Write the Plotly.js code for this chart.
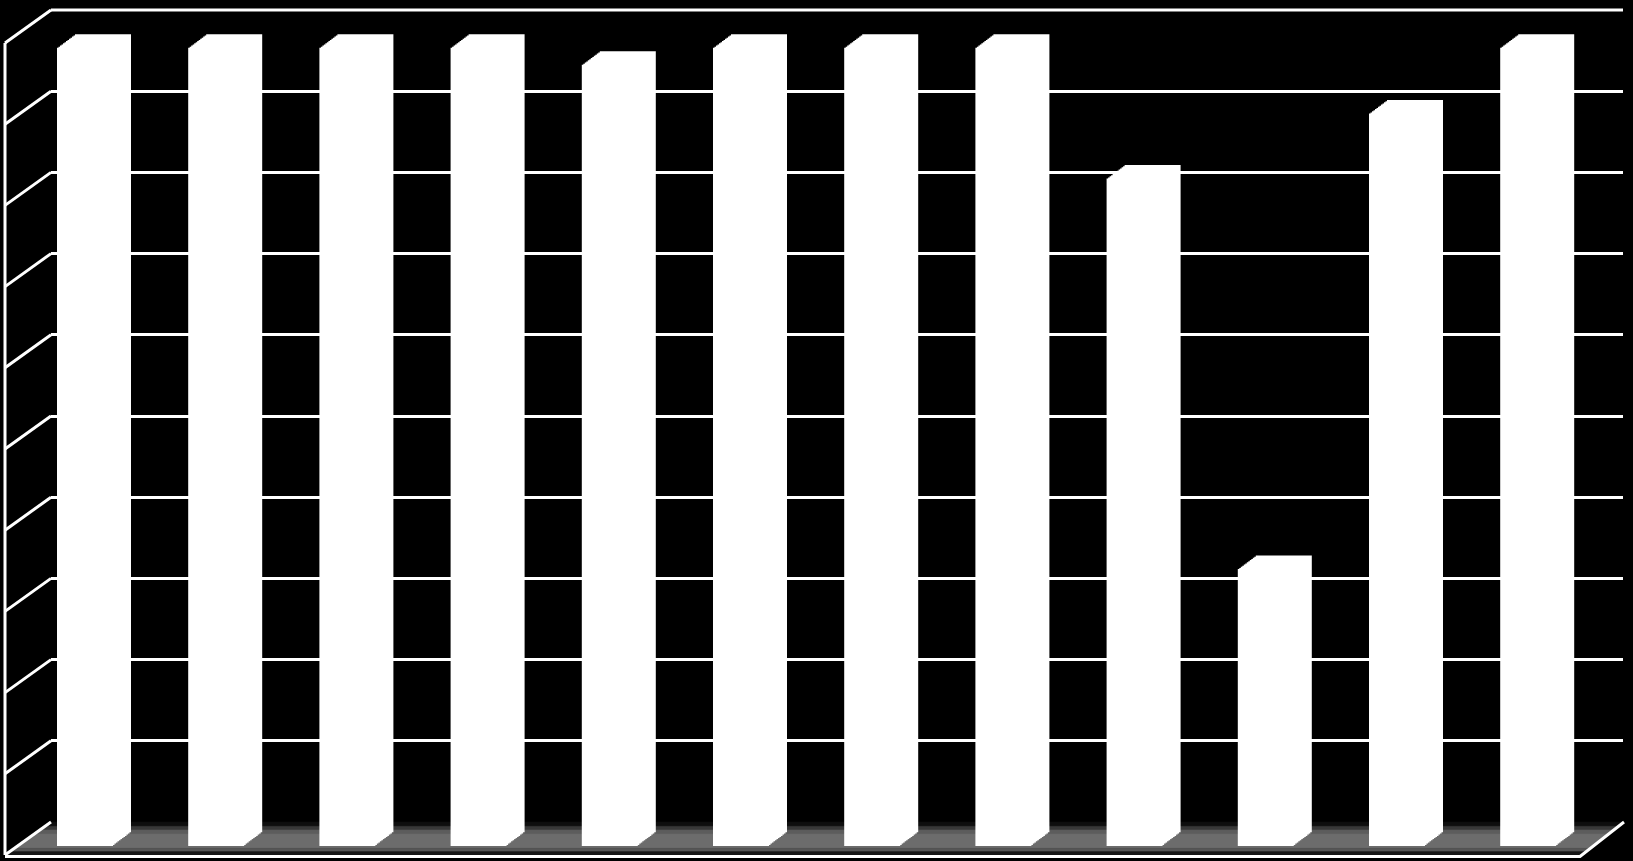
<!DOCTYPE html>
<html>
<head>
<meta charset="utf-8">
<script src="https://cdn.plot.ly/plotly-3.0.1.min.js"></script>
<style>html,body{margin:0;padding:0;background:#000;}#chart{width:1633px;height:861px;}</style>
</head>
<body>
<div id="chart"></div>
<script>
// ---- data ----
const categories = ['1','2','3','4','5','6','7','8','9','10','11','12'];
const values = [98.3, 98.3, 98.3, 98.3, 96.2, 98.3, 98.3, 98.3, 82.2, 34.1, 90.2, 98.3];
const gridTicks = [0,10,20,30,40,50,60,70,80,90,100];
const yMax = 100;

// ---- geometry (page pixels) ----
const W = 1633, H = 861;
const wallBackX = 51, wallRightX = 1623, floorBackY = 822, wallTopY = 10;
const wallFrontX = 5, depthDy = 33, floorFrontRightX = 1580;
const barZeroY = 846, barSpan = floorBackY - wallTopY; // px for yMax
const catStart = 19.4, catPitch = 131.2, barW = 56;
const bevelDx = 18, bevelDy = 13.5, steps = 12;
// floor shading bands: [from depth fraction, to depth fraction, colour]
const floorBands = [[0,0.13,'#0e0e0e'],[0.13,0.24,'#383838'],[0.24,0.36,'#5c5c5c'],[0.36,0.8,'#6c6c6c'],[0.8,0.9,'#555555'],[0.9,1,'#161616']];

const px = x => x / W;
const py = y => 1 - y / H;
const valToBackY = v => floorBackY - v / yMax * barSpan;

const traces = [];
const layout = {
  width: W, height: H,
  margin: {l:0, r:0, t:0, b:0, pad:0},
  paper_bgcolor: '#000', plot_bgcolor: 'rgba(0,0,0,0)',
  showlegend: false,
  bargap: 1 - barW / catPitch
};
const hidden = {showgrid:false, zeroline:false, showticklabels:false, showline:false, ticks:''};

// subplot 1: pixel space for floor and side wall
layout.xaxis = Object.assign({domain:[0,1], range:[0,W], fixedrange:true}, hidden);
layout.yaxis = Object.assign({domain:[0,1], range:[H,0], fixedrange:true}, hidden);

// floor bands
const lerp = (a,b,f) => a + (b-a)*f;
floorBands.forEach(([f0,f1,col]) => {
  const lx0 = lerp(wallBackX, wallFrontX, f0), lx1 = lerp(wallBackX, wallFrontX, f1);
  const rx0 = lerp(wallRightX+1, floorFrontRightX, f0), rx1 = lerp(wallRightX+1, floorFrontRightX, f1);
  const y0 = floorBackY + depthDy*f0, y1 = floorBackY + depthDy*f1;
  traces.push({
    type:'scatter', mode:'lines', xaxis:'x', yaxis:'y', hoverinfo:'skip',
    x:[lx0, rx0, rx1, lx1, lx0], y:[y0, y0, y1, y1, y0],
    fill:'toself', fillcolor:col, line:{color:col, width:0.5}
  });
});
// floor front & right edges
traces.push({
  type:'scatter', mode:'lines', xaxis:'x', yaxis:'y', hoverinfo:'skip',
  x:[wallFrontX, floorFrontRightX, wallRightX+1],
  y:[floorBackY+depthDy+1.5, floorBackY+depthDy+1.5, floorBackY],
  line:{color:'#ffffff', width:3}
});
// side wall: vertical front edge + diagonals at every grid tick
const wx = [wallFrontX, wallFrontX, null], wy = [valToBackY(yMax)+depthDy, floorBackY+depthDy, null];
gridTicks.forEach(t => {
  const gy = valToBackY(t);
  wx.push(wallBackX, wallFrontX, null);
  wy.push(gy, gy+depthDy, null);
});
traces.push({type:'scatter', mode:'lines', xaxis:'x', yaxis:'y', hoverinfo:'skip',
  x:wx, y:wy, line:{color:'#ffffff', width:3}});

// subplot 2: back wall gridlines
layout.xaxis2 = Object.assign({domain:[px(wallBackX), px(wallRightX)], anchor:'y2', range:[0,1]}, hidden);
layout.yaxis2 = Object.assign({}, hidden, {
  domain:[py(floorBackY), py(wallTopY)], anchor:'x2', range:[0, yMax],
  showgrid:true, gridcolor:'#ffffff', gridwidth:3, tickvals:gridTicks
});
traces.push({type:'scatter', mode:'lines', xaxis:'x2', yaxis:'y2', x:[0,1], y:[0,yMax],
  line:{color:'rgba(0,0,0,0)'}, hoverinfo:'skip'});
// top edge line of back wall
traces.push({type:'scatter', mode:'lines', xaxis:'x', yaxis:'y', hoverinfo:'skip',
  x:[wallBackX, wallRightX], y:[wallTopY, wallTopY], line:{color:'#ffffff', width:3}});

// bar layers: front face (k=0) to back face (k=steps), stacked offsets to imitate 3D boxes
for (let k = 0; k <= steps; k++) {
  const n = k + 3;
  const ox = k * bevelDx / steps, oy = k * bevelDy / steps;
  const x0 = catStart + ox, x1 = catStart + ox + catPitch * categories.length;
  const y0 = barZeroY - oy, y1 = barZeroY - oy - barSpan;
  layout['xaxis'+n] = Object.assign({domain:[px(x0), px(x1)], anchor:'y'+n, type:'category',
    range:[-0.5, categories.length-0.5]}, hidden);
  layout['yaxis'+n] = Object.assign({domain:[py(y0), py(y1)], anchor:'x'+n, range:[0, yMax]}, hidden);
  traces.push({type:'bar', xaxis:'x'+n, yaxis:'y'+n, x:categories, y:values,
    marker:{color:'#ffffff', line:{width:0}}, hoverinfo:'skip', cliponaxis:false});
}

Plotly.newPlot('chart', traces, layout, {staticPlot:true, displayModeBar:false});
</script>
</body>
</html>
